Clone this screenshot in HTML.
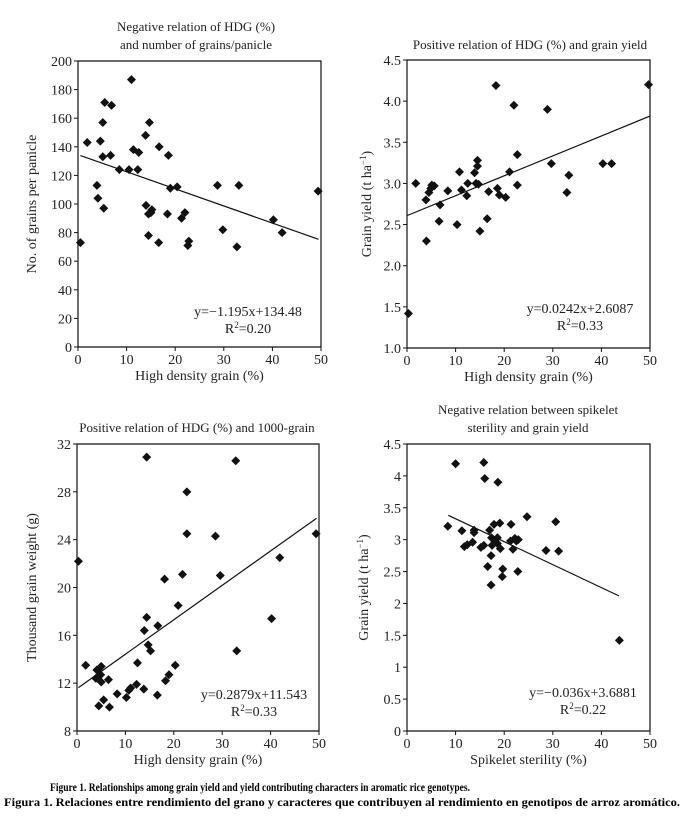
<!DOCTYPE html>
<html><head><meta charset="utf-8"><style>
html,body{margin:0;padding:0;background:#fff;}
svg{display:block;font-family:"Liberation Serif",serif;}
</style></head><body>
<svg id="fig" width="691" height="819" viewBox="0 0 691 819">
<text x="50" y="791" font-size="12" font-weight="bold" textLength="420" lengthAdjust="spacingAndGlyphs">Figure 1. Relationships among grain yield and yield contributing characters in aromatic rice genotypes.</text>
<text x="4" y="806" font-size="12" font-weight="bold" textLength="676" lengthAdjust="spacingAndGlyphs">Figura 1. Relaciones entre rendimiento del grano y caracteres que contribuyen al rendimiento en genotipos de arroz aromático.</text>
</svg>
<script>
// Panel A: HDG vs grains per panicle
const hdgA = [0.5,1.9,3.9,4.1,4.6,5.1,5.1,5.3,5.5,6.7,6.9,8.5,10.5,11,11.4,12.3,12.5,13.9,14,14.5,14.5,14.7,15,15.2,16.6,16.7,18.4,18.6,19,20.4,21.3,22,22.6,22.8,28.7,29.8,32.7,33.1,40.2,42,49.4];
const grainsA = [73,143,113,104,144,157,133,97,171,134,169,124,124,187,138,124,136,148,99,78,93,157,94,96,73,140,93,134,111,112,90,94,71,74,113,82,70,113,89,80,109];
const xTicksA = [0,10,20,30,40,50];
const yTicksA = [0,20,40,60,80,100,120,140,160,180,200];
// Panel B: HDG vs grain yield
const hdgB = [0.3,1.8,3.9,4,4.5,4.9,5.1,5.6,6.6,6.8,8.4,10.3,10.8,11.2,12.3,12.5,13.9,14.2,14.5,14.5,14.7,15,16.8,16.5,18.3,18.6,19,20.3,21.1,22,22.7,22.7,28.9,29.7,32.9,33.3,40.3,42.1,49.7];
const yieldB = [1.42,3.0,2.8,2.3,2.89,2.94,2.98,2.97,2.54,2.74,2.91,2.5,3.14,2.92,2.85,3.0,3.13,3.0,3.28,3.21,2.99,2.42,2.9,2.57,4.19,2.94,2.86,2.83,3.14,3.95,2.98,3.35,3.9,3.24,2.89,3.1,3.24,3.24,4.2];
const xTicksB = [0,10,20,30,40,50];
const yTicksB = ["1.0","1.5","2.0","2.5","3.0","3.5","4.0","4.5"];
// Panel C: HDG vs 1000-grain weight
const hdgC = [0.3,1.8,3.9,4.1,4.5,4.9,5.0,5.0,5.5,6.5,6.7,8.3,10.2,10.7,11.1,12.3,12.5,13.8,13.9,14.4,14.4,14.7,15.2,16.6,16.7,18.3,18.1,19,20.3,20.9,21.8,22.7,22.7,28.6,29.6,32.8,33,40.2,41.9,49.4];
const tgwC = [22.2,13.5,12.4,13.1,10.1,12.7,13.4,12.1,10.6,12.3,10.0,11.1,10.8,11.4,11.6,11.9,13.7,11.5,16.4,30.9,17.5,15.2,14.7,11.0,16.8,12.2,20.7,12.7,13.5,18.5,21.1,28.0,24.5,24.3,21.0,30.6,14.7,17.4,22.5,24.5];
const xTicksC = [0,10,20,30,40,50];
const yTicksC = [8,12,16,20,24,28,32];
// Panel D: spikelet sterility vs grain yield
const sterD = [8.4,10,11.3,11.8,12.4,13.5,13.8,13.8,15.2,15.8,15.8,16,16.6,17,17.3,17.3,17.4,17.5,17.9,18.1,18.6,18.6,18.7,19.1,19.2,19.6,19.7,21.4,21.3,21.8,22.2,22.5,22.9,22.8,24.7,28.6,30.6,31.2,43.7];
const yieldD = [3.21,4.19,3.14,2.89,2.92,2.96,3.15,3.11,2.88,4.21,2.91,3.96,2.58,3.15,2.75,2.29,3.03,2.91,3.24,2.97,2.94,3.03,3.9,3.26,2.86,2.42,2.54,3.24,2.98,2.85,3.02,2.98,3.0,2.5,3.36,2.83,3.28,2.82,1.42];
const xTicksD = [0,10,20,30,40,50];
const yTicksD = ["0","0.5","1","1.5","2","2.5","3","3.5","4","4.5"];

const NS = "http://www.w3.org/2000/svg";
const svg = document.getElementById('fig');
function mk(tag, attrs, parent, txt){
  const e = document.createElementNS(NS, tag);
  for (const k in attrs) e.setAttribute(k, attrs[k]);
  if (txt !== undefined) e.textContent = txt;
  (parent||svg).appendChild(e);
  return e;
}
function panel(o){
  const g = mk('g', {});
  
  
  const sx = v => o.L + (v - o.x0)/(o.x1 - o.x0)*(o.R - o.L);
  const sy = v => o.B - (v - o.y0)/(o.y1 - o.y0)*(o.B - o.T);
  // axes
  const ax = mk('path', {d:`M${o.L},${o.T} L${o.L},${o.B} L${o.R},${o.B} L${o.R},${o.T} Z`, fill:'none', stroke:'#111', 'stroke-width':1.2}, g);
  
  
  o.xt.forEach(t => {
    const x = sx(+t);
    mk('line', {x1:x, x2:x, y1:o.B, y2:o.B+4, stroke:'#111'}, g);
    const tl = mk('text', {x:x, y:o.B+17, 'font-size':14, 'text-anchor':'middle', fill:'#222'}, g, t);
    
    
  });
  o.yt.forEach(t => {
    const y = sy(+t);
    mk('line', {x1:o.L-4, x2:o.L, y1:y, y2:y, stroke:'#111'}, g);
    const tl = mk('text', {x:o.L-6, y:y+5, 'font-size':14, 'text-anchor':'end', fill:'#222'}, g, t);
    
    
  });
  // trend line
  const tr = mk('line', {x1:sx(o.tx0), y1:sy(o.a*o.tx0+o.b), x2:sx(o.tx1), y2:sy(o.a*o.tx1+o.b), stroke:'#111', 'stroke-width':1.2}, g);
  
  
  // points
  o.xs.forEach((xv, i) => {
    const x = sx(xv), y = sy(o.ys[i]), r = 4.5;
    const p = mk('path', {d:`M${x},${y-r} L${x+r},${y} L${x},${y+r} L${x-r},${y} Z`, fill:'#111'}, g);
    
    
  });
  // titles
  o.title.forEach((t, i) => {
    const e = mk('text', {x:o.tcx, y:o.ty + i*18, 'font-size':13, 'text-anchor':'middle', fill:'#222'}, g, t);
    
    
  });
  const xl = mk('text', {x:(o.L+o.R)/2, y:o.B+33, 'font-size':14, 'text-anchor':'middle', fill:'#222'}, g, o.xlab);
  
  
  const ycx = o.ylx, ycy = (o.T+o.B)/2;
  const yl = mk('text', {x:ycx, y:ycy, 'font-size':14, 'text-anchor':'middle', fill:'#222', transform:`rotate(-90 ${ycx} ${ycy})`}, g);
  
  
  yl.innerHTML = o.ylab;
  const eq = mk('text', {x:o.ex, y:o.ey, 'font-size':14, 'text-anchor':'middle', fill:'#222'}, g, o.eq);
  
  
  const r2 = mk('text', {x:o.ex, y:o.ey+17, 'font-size':14, 'text-anchor':'middle', fill:'#222'}, g);
  
  
  r2.innerHTML = 'R<tspan font-size="9" dy="-5">2</tspan><tspan dy="5">=' + o.r2 + '</tspan>';
}
panel({name:'panel-grains-per-panicle', L:78, R:321, T:61, B:347, x0:0, x1:50, y0:0, y1:200,
  xs:hdgA, ys:grainsA, xt:xTicksA, yt:yTicksA, a:-1.195, b:134.48, tx0:0.5, tx1:49.5,
  title:['Negative relation of HDG (%)','and number of grains/panicle'], tcx:196, ty:31,
  xlab:'High density grain (%)', ylab:'No. of grains per panicle', ylx:36,
  eq:'y=−1.195x+134.48', r2:'0.20', ex:248, ey:316});
panel({name:'panel-hdg-grain-yield', L:407, R:650, T:60, B:348, x0:0, x1:50, y0:1, y1:4.5,
  xs:hdgB, ys:yieldB, xt:xTicksB, yt:yTicksB, a:0.0242, b:2.6087, tx0:0, tx1:50,
  title:['Positive relation of HDG (%) and grain yield'], tcx:530, ty:49,
  xlab:'High density grain (%)', ylab:'Grain yield (t ha<tspan font-size="9" dy="-5">−1</tspan><tspan dy="5">)</tspan>', ylx:371,
  eq:'y=0.0242x+2.6087', r2:'0.33', ex:580, ey:313});
panel({name:'panel-thousand-grain-weight', L:77, R:319, T:444, B:731, x0:0, x1:50, y0:8, y1:32,
  xs:hdgC, ys:tgwC, xt:xTicksC, yt:yTicksC, a:0.2879, b:11.543, tx0:0.3, tx1:49.5,
  title:['Positive relation of HDG (%) and 1000-grain'], tcx:197, ty:432,
  xlab:'High density grain (%)', ylab:'Thousand grain weight (g)', ylx:36,
  eq:'y=0.2879x+11.543', r2:'0.33', ex:254, ey:699});
panel({name:'panel-sterility-grain-yield', L:407, R:650, T:444, B:731, x0:0, x1:50, y0:0, y1:4.5,
  xs:sterD, ys:yieldD, xt:xTicksD, yt:yTicksD, a:-0.036, b:3.6881, tx0:8.5, tx1:43.6,
  title:['Negative relation between spikelet','sterility and grain yield'], tcx:528, ty:414,
  xlab:'Spikelet sterility (%)', ylab:'Grain yield (t ha<tspan font-size="9" dy="-5">−1</tspan><tspan dy="5">)</tspan>', ylx:368,
  eq:'y=−0.036x+3.6881', r2:'0.22', ex:583, ey:697});
</script>
</body></html>
